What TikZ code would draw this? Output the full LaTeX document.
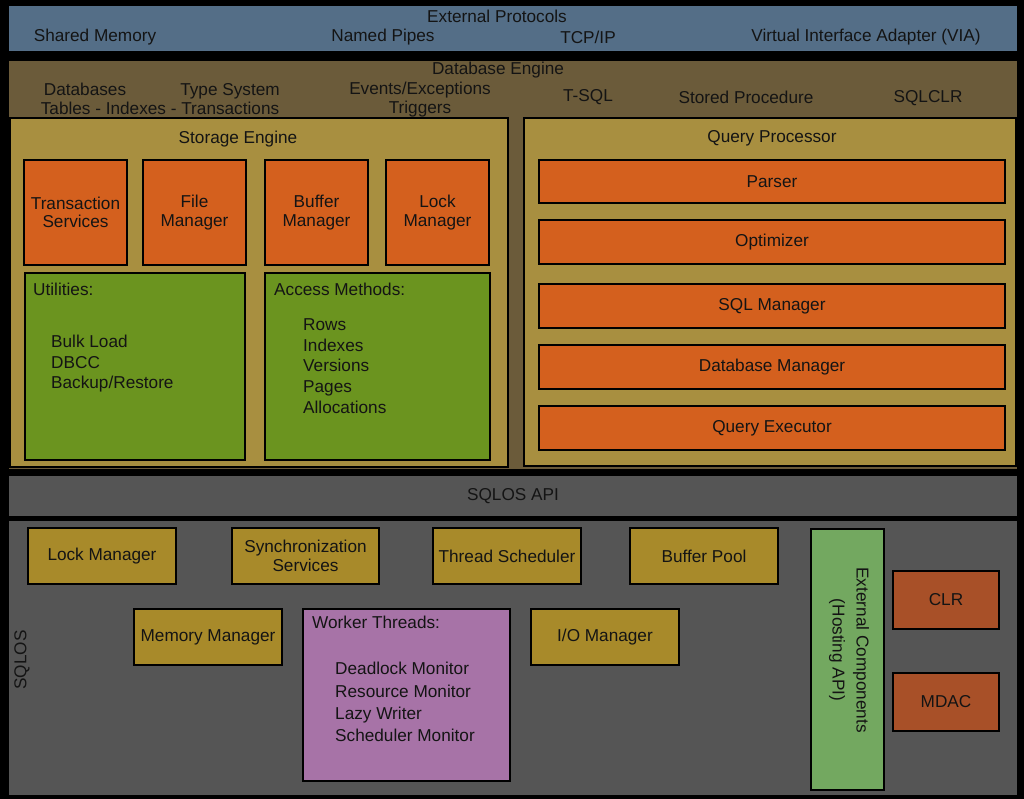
\documentclass[tikz,border=0pt]{standalone}
\usepackage{fontspec}
\setmainfont{Liberation Sans}
\definecolor{txt}{HTML}{141414}
\definecolor{extblue}{HTML}{546E87}
\definecolor{engbrown}{HTML}{6B5B3A}
\definecolor{olive}{HTML}{A88F40}
\definecolor{orng}{HTML}{D4601E}
\definecolor{grn}{HTML}{6B941F}
\definecolor{gry}{HTML}{555555}
\definecolor{gold}{HTML}{A88A2A}
\definecolor{purp}{HTML}{A773A7}
\definecolor{lgrn}{HTML}{73A860}
\definecolor{rust}{HTML}{A85028}
\newcommand\mybox[7]{\node[box, fill=#6, minimum width={(#4-#2)*1pt}, minimum height={(#5-#3)*1pt}] (#1) at ({(#2+#4)/2},{(#3+#5)/2}) {#7};}
\begin{document}
\begin{tikzpicture}[x=1pt,y=-1pt,
  every node/.style={font=\fontsize{17.2}{18.5}\selectfont, text=txt},
  box/.style={draw=black, line width=1.8pt, inner sep=0pt, align=center},
  lbl/.style={inner sep=0pt, align=center},
  lft/.style={inner sep=0pt, align=left, anchor=west}]
\fill[black] (0,0) rectangle (1024,799);
\useasboundingbox (0,0) rectangle (1024,799);
% External protocols
\mybox{ext}{8}{5}{1018}{52}{extblue}{}
\node[lbl] (extT) at (497,16) {External Protocols};
\node[lbl] (shm) at (95,37) {Shared Memory};
\node[lbl] (np) at (383,37) {Named Pipes};
\node[lbl] (tcp) at (588,37) {TCP/IP};
\node[lbl] (via) at (866,37) {Virtual Interface Adapter (VIA)};
% Database engine
\mybox{eng}{8}{60}{1018}{470}{engbrown}{}
\node[lbl] (engT) at (498,70) {Database Engine};
\node[lbl] (dbs) at (85,89) {Databases};
\node[lbl] (ts) at (230,91) {Type System};
\node[lbl] (tit) at (160,108) {Tables - Indexes - Transactions};
\node[lbl] (evx) at (420,90) {Events/Exceptions};
\node[lbl] (trg) at (420,109) {Triggers};
\node[lbl] (tsql) at (588,97) {T-SQL};
\node[lbl] (sp) at (746,97) {Stored Procedure};
\node[lbl] (sqlclr) at (928,98) {SQLCLR};
% Storage engine
\mybox{se}{10}{118}{508}{467}{olive}{}
\node[lbl] (seT) at (238,139) {Storage Engine};
\mybox{trans}{24}{160}{127}{265}{orng}{Transaction\\Services}
\mybox{fm}{143}{160}{246}{265}{orng}{File\\Manager}
\mybox{bm}{265}{160}{368}{265}{orng}{Buffer\\Manager}
\mybox{lm}{386}{160}{489}{265}{orng}{Lock\\Manager}
\mybox{util}{25}{273}{245}{460}{grn}{}
\mybox{am}{265}{273}{490}{460}{grn}{}
\node[lft] (utilT) at (33,289) {Utilities:};
\node[lft, font=\fontsize{17.2}{20.5}\selectfont] (utilL) at (51,364) {Bulk Load\\DBCC\\Backup/Restore};
\node[lft] (amT) at (274,289) {Access Methods:};
\node[lft, font=\fontsize{17.2}{20.8}\selectfont] (amL) at (303,366) {Rows\\Indexes\\Versions\\Pages\\Allocations};
% Query processor
\mybox{qp}{524}{118}{1016}{466}{olive}{}
\node[lbl] (qpT) at (772,138) {Query Processor};
\mybox{parser}{539}{160}{1005}{203}{orng}{Parser}
\mybox{opt}{539}{220}{1005}{264}{orng}{Optimizer}
\mybox{sqlm}{539}{284}{1005}{328}{orng}{SQL Manager}
\mybox{dbm}{539}{345}{1005}{389}{orng}{Database Manager}
\mybox{qe}{539}{406}{1005}{450}{orng}{Query Executor}
% SQLOS API
\mybox{api}{8}{475}{1018}{517}{gry}{SQLOS API}
% SQLOS
\mybox{sqlos}{8}{520}{1018}{796}{gry}{}
\node[lbl, rotate=90] (sqlosT) at (22,660) {SQLOS};
\mybox{oslm}{28}{528}{176}{584}{gold}{Lock Manager}
\mybox{sync}{232}{528}{379}{584}{gold}{Synchronization\\Services}
\mybox{thr}{433}{528}{581}{584}{gold}{Thread Scheduler}
\mybox{bp}{630}{528}{778}{584}{gold}{Buffer Pool}
\mybox{mem}{134}{609}{282}{665}{gold}{Memory Manager}
\mybox{wt}{303}{609}{510}{781}{purp}{}
\node[lft] (wtT) at (312,622) {Worker Threads:};
\node[lft, font=\fontsize{17.2}{22.2}\selectfont] (wtL) at (335,702) {Deadlock Monitor\\Resource Monitor\\Lazy Writer\\Scheduler Monitor};
\mybox{io}{531}{609}{679}{665}{gold}{I/O Manager}
\mybox{extc}{811}{529}{884}{790}{lgrn}{}
\node[lbl, rotate=-90, align=center, font=\fontsize{17.2}{24}\selectfont] (extcT) at (849,650) {External Components\\(Hosting API)};
\mybox{clr}{893}{571}{999}{629}{rust}{CLR}
\mybox{mdac}{893}{673}{999}{731}{rust}{MDAC}
\end{tikzpicture}
\end{document}
